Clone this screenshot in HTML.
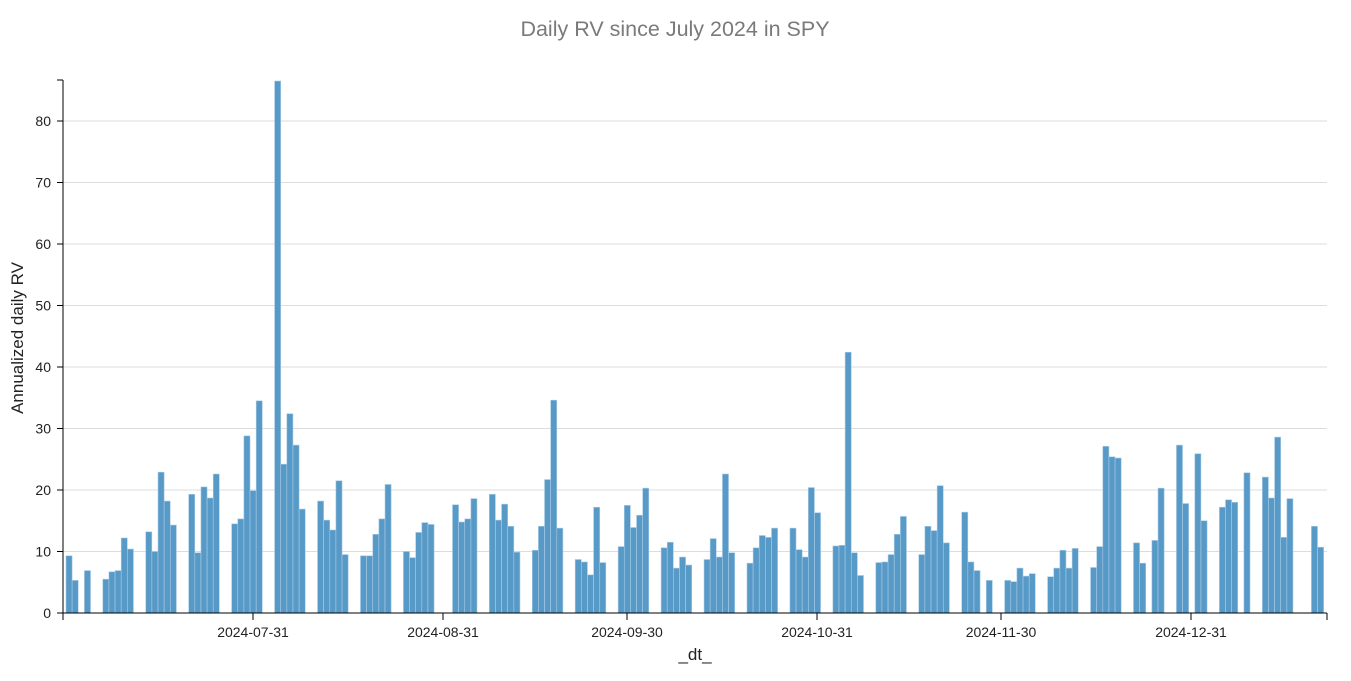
<!DOCTYPE html>
<html><head><meta charset="utf-8"><style>
html,body{margin:0;padding:0;background:#fff;}
svg{display:block;font-family:"Liberation Sans",sans-serif;}
</style></head><body>
<svg id="s" width="1351" height="681" xmlns="http://www.w3.org/2000/svg">
<text x="675" y="36" text-anchor="middle" font-size="21.5" fill="#7a7a7a">Daily RV since July 2024 in SPY</text>
<g id="grid"></g>
<g id="bars"></g>
<line x1="63" y1="80" x2="63" y2="613" stroke="#000" stroke-width="1"/>
<line x1="57" y1="80" x2="63" y2="80" stroke="#000"/>
<line x1="63" y1="613" x2="1327" y2="613" stroke="#000" stroke-width="1"/>
<g id="ticks"></g>
<text x="695" y="660" text-anchor="middle" font-size="17" fill="#222">_dt_</text>
<text transform="translate(23,338) rotate(-90)" text-anchor="middle" font-size="17" fill="#222">Annualized daily RV</text>
</svg>
<script>
var NS="http://www.w3.org/2000/svg";
function el(p,t,a,txt){var e=document.createElementNS(NS,t);for(var k in a)e.setAttribute(k,a[k]);if(txt!=null)e.textContent=txt;document.getElementById(p).appendChild(e);}
function Y(v){return 613-v*6.15;}
for(var v=0;v<=80;v+=10){var y=Y(v);
 if(v>0)el("grid","line",{x1:63,x2:1327,y1:y,y2:y,stroke:"#dcdcdc","stroke-width":1});
 el("ticks","line",{x1:57,x2:63,y1:y,y2:y,stroke:"#000"});
 el("ticks","text",{x:51,y:y+5,"text-anchor":"end","font-size":14,fill:"#222"},String(v));}
var xt=[[253,"2024-07-31"],[443,"2024-08-31"],[627,"2024-09-30"],[817,"2024-10-31"],[1001,"2024-11-30"],[1191,"2024-12-31"]];
el("ticks","line",{x1:63,x2:63,y1:613,y2:620,stroke:"#000"});
el("ticks","line",{x1:1327,x2:1327,y1:613,y2:620,stroke:"#000"});
xt.forEach(function(t){el("ticks","line",{x1:t[0],x2:t[0],y1:613,y2:620,stroke:"#000"});
 el("ticks","text",{x:t[0],y:637,"text-anchor":"middle","font-size":14,fill:"#222"},t[1]);});
var d={0:9.3,1:5.3,3:6.9,
6:5.5,7:6.7,8:6.9,9:12.2,10:10.4,
13:13.2,14:10.0,15:22.9,16:18.2,17:14.3,
20:19.3,21:9.8,22:20.5,23:18.7,24:22.6,
27:14.5,28:15.3,29:28.8,30:19.9,31:34.5,
34:86.5,35:24.2,36:32.4,37:27.3,38:16.9,
41:18.2,42:15.1,43:13.5,44:21.5,45:9.5,
48:9.3,49:9.3,50:12.8,51:15.3,52:20.9,
55:10.0,56:9.0,57:13.1,58:14.7,59:14.4,
63:17.6,64:14.8,65:15.3,66:18.6,
69:19.3,70:15.1,71:17.7,72:14.1,73:9.9,
76:10.2,77:14.1,78:21.7,79:34.6,80:13.8,
83:8.7,84:8.3,85:6.2,86:17.2,87:8.2,
90:10.8,91:17.5,92:13.9,93:15.9,94:20.3,
97:10.6,98:11.5,99:7.3,100:9.1,101:7.8,
104:8.7,105:12.1,106:9.1,107:22.6,108:9.8,
111:8.1,112:10.6,113:12.6,114:12.3,115:13.8,
118:13.8,119:10.3,120:9.1,121:20.4,122:16.3,
125:10.9,126:11.0,127:42.4,128:9.8,129:6.1,
132:8.2,133:8.3,134:9.5,135:12.8,136:15.7,
139:9.5,140:14.1,141:13.4,142:20.7,143:11.4,
146:16.4,147:8.3,148:6.9,150:5.3,
153:5.3,154:5.1,155:7.3,156:6.0,157:6.4,
160:5.9,161:7.3,162:10.2,163:7.3,164:10.5,
167:7.4,168:10.8,169:27.1,170:25.4,171:25.2,
174:11.4,175:8.1,177:11.8,178:20.3,
181:27.3,182:17.8,184:25.9,185:15.0,
188:17.2,189:18.4,190:18.0,192:22.8,
195:22.1,196:18.7,197:28.6,198:12.3,199:18.6,
203:14.1,204:10.7};
for(var k in d){var x=66+k*6.135,v=d[k];
 el("bars","rect",{x:x.toFixed(2),y:Y(v).toFixed(2),width:6.1,height:(v*6.15).toFixed(2),fill:"#5799c7",stroke:"#a9cbe4","stroke-width":0.6});}
</script>
</body></html>
